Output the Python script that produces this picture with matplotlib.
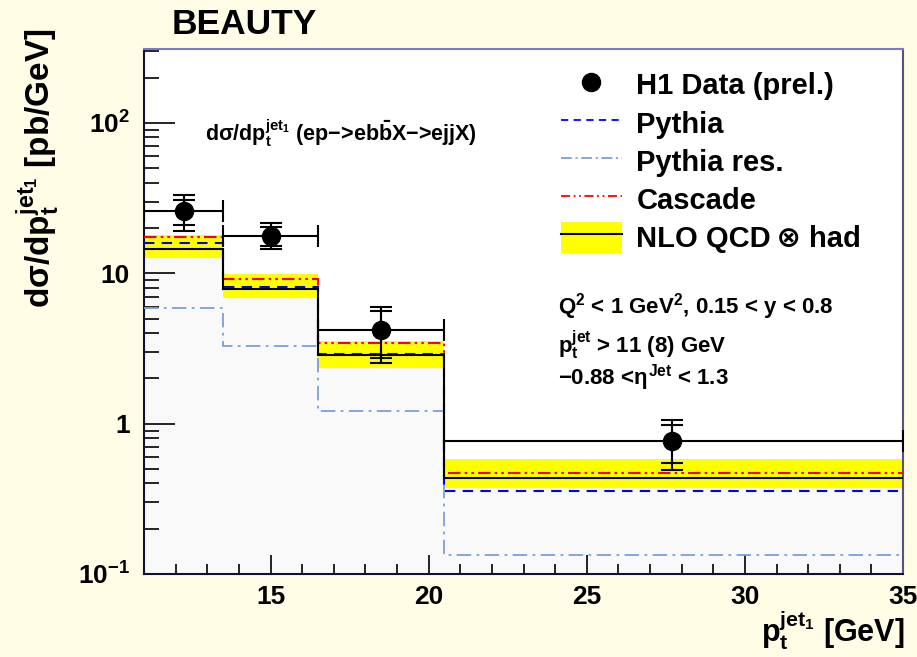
import numpy as np
import matplotlib
matplotlib.use("Agg")
import matplotlib.pyplot as plt
from matplotlib.lines import Line2D
from matplotlib.patches import Patch
from matplotlib.ticker import LogLocator, FixedLocator, MultipleLocator, NullFormatter

plt.rcParams['font.family'] = ['Liberation Sans', 'DejaVu Sans']
plt.rcParams['font.weight'] = 'bold'
plt.rcParams['mathtext.fontset'] = 'custom'
plt.rcParams['mathtext.rm'] = 'Liberation Sans:bold'
plt.rcParams['mathtext.bf'] = 'Liberation Sans:bold'
plt.rcParams['mathtext.it'] = 'Liberation Sans:bold'
plt.rcParams['mathtext.sf'] = 'Liberation Sans:bold'

# bins in pt (GeV)
edges = [11, 13.5, 16.5, 20.5, 35]

# H1 data
data_x = [12.25, 15.0, 18.5, 27.7]
data_y = [25.9, 17.7, 4.21, 0.77]
data_up = [33.1, 21.5, 5.96, 1.06]
data_dn = [19.1, 14.4, 2.52, 0.49]
data_stat_up = [30.5, 20.3, 5.6, 0.98]
data_stat_dn = [21.0, 15.2, 2.75, 0.55]

# predictions
nlo = [14.4, 7.82, 2.85, 0.435]
nlo_up = [17.9, 9.95, 3.57, 0.578]
nlo_dn = [12.7, 6.81, 2.35, 0.373]
cascade = [17.5, 9.12, 3.45, 0.466]
pythia = [15.9, 8.15, 2.91, 0.357]
pythia_res = [5.87, 3.26, 1.22, 0.134]

bg = '#fffde6'
fig = plt.figure(figsize=(9.17, 6.57), dpi=100, facecolor=bg)
ax = fig.add_axes([144 / 917, 1 - 574 / 657, 759 / 917, 525 / 657])
ax.set_facecolor('white')

# light grey fill under the band, then the band itself
ax.stairs(nlo_dn, edges, baseline=1e-3, fill=True, color='#f9f9f9', zorder=1)
ax.stairs(nlo_up, edges, baseline=nlo_dn, fill=True, color='#ffff00', zorder=2)

ax.stairs(pythia_res, edges, baseline=None, color='#7f9fd8', lw=1.3,
          linestyle=(0, (8, 3, 1.5, 3)), zorder=3)
ax.stairs(pythia, edges, baseline=None, color='#0000ff', lw=1.5,
          linestyle=(0, (5, 3.5)), zorder=4)
ax.stairs(cascade, edges, baseline=None, color='#ff0000', lw=1.5,
          linestyle=(0, (6, 2, 1.2, 2, 1.2, 2)), zorder=4)
ax.stairs(nlo, edges, baseline=None, color='black', lw=1.5, zorder=5)

# data points with x bin widths
xlo = [edges[i] for i in range(4)]
xhi = [edges[i + 1] for i in range(4)]
data_x = np.array(data_x)
data_y = np.array(data_y)
xerr = [data_x - np.array(xlo), np.array(xhi) - data_x]
ax.errorbar(data_x, data_y, xerr=xerr,
            yerr=[data_y - np.array(data_dn), np.array(data_up) - data_y],
            fmt='o', color='black', ms=13, lw=1.5, capsize=8, capthick=1.5, zorder=6)
ax.errorbar(data_x, data_y,
            yerr=[data_y - np.array(data_stat_dn), np.array(data_stat_up) - data_y],
            fmt='none', ecolor='black', lw=1.5, capsize=8, capthick=1.5, zorder=6)

ax.set_xlim(11, 35)
ax.set_yscale('log')
ax.set_ylim(0.1, 310)

ax.xaxis.set_major_locator(FixedLocator([15, 20, 25, 30, 35]))
ax.xaxis.set_minor_locator(MultipleLocator(1))
ax.yaxis.set_major_locator(FixedLocator([0.1, 1, 10, 100]))
ax.yaxis.set_minor_locator(LogLocator(base=10, subs=np.arange(2, 10)))
ax.yaxis.set_minor_formatter(NullFormatter())
ax.set_yticklabels([r'$10^{-1}$', '1', '10', r'$10^{2}$'])
ax.set_xticklabels(['15', '20', '25', '30', '35'])
ax.tick_params(axis='both', which='both', direction='in', top=False, right=False,
               labelsize=19, width=1.2, colors='black')
ax.tick_params(axis='y', which='major', length=22, pad=10)
ax.tick_params(axis='y', which='minor', length=11)
ax.tick_params(axis='x', which='major', length=14, pad=8)
ax.tick_params(axis='x', which='minor', length=7)
for lbl in ax.get_xticklabels() + ax.get_yticklabels():
    lbl.set_fontweight('bold')

for side in ['left', 'bottom']:
    ax.spines[side].set_linewidth(1.5)
    ax.spines[side].set_color('#111133')
ax.spines['top'].set_color('#7a7acc')
ax.spines['top'].set_linewidth(1.5)
ax.spines['right'].set_color('#55557a')
ax.spines['right'].set_linewidth(1.5)

# texts
fig.text(172 / 917, 1 - 25 / 657, 'BEAUTY', fontsize=25.5, fontweight='bold', va='center', ha='left')
fig.text(38 / 917, 1 - 168 / 657, r'd$\sigma$/dp$_{t}^{jet_{1}}$ [pb/GeV]', rotation=90,
         fontsize=24, fontweight='bold', va='center', ha='center')
fig.text(905 / 917, 1 - 630 / 657, r'p$_{t}^{jet_{1}}$ [GeV]', fontsize=22,
         fontweight='bold', va='center', ha='right')

ax.text(0.08, 0.84, r'd$\sigma$/dp$_{t}^{jet_{1}}$ (ep$-$>eb$\bar{\mathrm{b}}$X$-$>ejjX)',
        transform=ax.transAxes, fontsize=15.5, fontweight='bold', va='center')
ax.text(0.545, 0.51, r'Q$^{2}$ < 1 GeV$^{2}$, 0.15 < y < 0.8', transform=ax.transAxes,
        fontsize=16, fontweight='bold', va='center')
ax.text(0.545, 0.435, r'p$_{t}^{jet}$ > 11 (8) GeV', transform=ax.transAxes,
        fontsize=16, fontweight='bold', va='center')
ax.text(0.545, 0.375, r'$-$0.88 <$\eta^{Jet}$ < 1.3', transform=ax.transAxes,
        fontsize=16, fontweight='bold', va='center')

# legend
handles = [
    Line2D([], [], marker='o', color='black', ls='none', ms=13),
    Line2D([], [], color='#0000ff', lw=1.3, ls=(0, (4, 3))),
    Line2D([], [], color='#7f9fd8', lw=1.3, ls=(0, (6, 2, 1.2, 2))),
    Line2D([], [], color='#ff0000', lw=1.3, ls=(0, (5, 2, 1, 2, 1, 2))),
    (Patch(facecolor='#ffff00', edgecolor='none'), Line2D([], [], color='black', lw=1.5)),
]
labels = ['H1 Data (prel.)', 'Pythia', 'Pythia res.', 'Cascade', 'NLO QCD\u2009\u2297 had']
leg = fig.legend(handles, labels, loc='upper left', bbox_to_anchor=(549 / 917, 1 - 57 / 657),
                 frameon=False, fontsize=21, handlelength=2.1, handleheight=1.3,
                 labelspacing=0.22, handletextpad=0.5, borderaxespad=0)
for t in leg.get_texts():
    t.set_fontweight('bold')

fig.savefig('out.png', dpi=100, facecolor=bg)
